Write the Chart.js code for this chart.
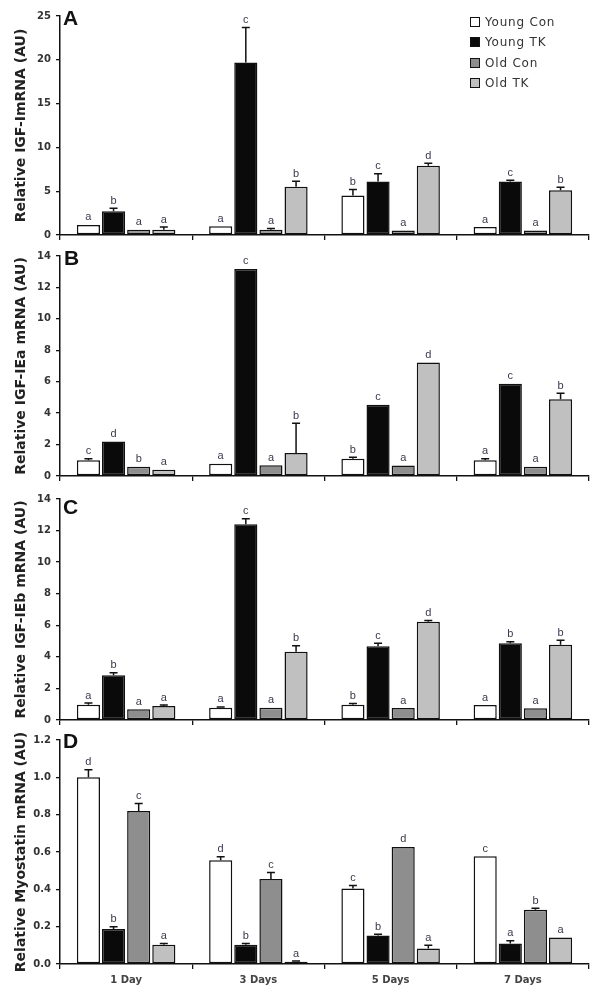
<!DOCTYPE html>
<html><head><meta charset="utf-8">
<script src="https://cdn.jsdelivr.net/npm/chart.js@4.4.1/dist/chart.umd.min.js"></script>
<style>
html,body{margin:0;padding:0;background:#fff;}
#wrap{position:relative;width:602px;height:992px;overflow:hidden;background:#fff;}
canvas{position:absolute;left:0;}
.plabel{position:absolute;font:bold 21px "Liberation Sans",Arial,sans-serif;color:#111;line-height:1;}
.legend{position:absolute;left:470px;top:12px;font:12px "DejaVu Sans",sans-serif;color:#333;letter-spacing:0.8px;}
.legend div{height:20.3px;display:flex;align-items:center;white-space:nowrap;}
.legend span.sw{display:inline-block;width:8px;height:8px;border:1px solid #111;margin-right:5px;flex:none;}
</style></head>
<body><div id="wrap">
<canvas id="cA" width="602" height="246" style="top:0px"></canvas>
<canvas id="cB" width="602" height="247" style="top:240px"></canvas>
<canvas id="cC" width="602" height="248" style="top:483px"></canvas>
<canvas id="cD" width="602" height="268" style="top:724px"></canvas>
<div class="plabel" style="left:63px;top:7px">A</div>
<div class="plabel" style="left:64px;top:247px">B</div>
<div class="plabel" style="left:63px;top:496px">C</div>
<div class="plabel" style="left:63px;top:730px">D</div>
<div class="legend" id="legend"></div>
</div>
<script>
// ---- categories and series ----
const categories = ['1 Day', '3 Days', '5 Days', '7 Days'];
const seriesNames = ['Young Con', 'Young TK', 'Old Con', 'Old TK'];
const seriesColors = ['#ffffff', '#0a0a0a', '#8e8e8e', '#c0c0c0'];

// ---- Panel A: IGF-I mRNA ----
const igf1YoungCon = [1.15, 1.0, 4.5, 0.9];
const igf1YoungTK  = [2.7, 19.7, 6.1, 6.1];
const igf1OldCon   = [0.6, 0.6, 0.5, 0.5];
const igf1OldTK    = [0.6, 5.5, 7.9, 5.1];
const igf1ErrYoungCon = [0, 0, 0.7, 0];
const igf1ErrYoungTK  = [0.35, 4.0, 0.9, 0.15];
const igf1ErrOldCon   = [0, 0.15, 0, 0];
const igf1ErrOldTK    = [0.3, 0.65, 0.3, 0.35];
const igf1Letters = [['a','a','b','a'], ['b','c','c','c'], ['a','a','a','a'], ['a','b','d','b']];
const igf1Ticks = [0, 5, 10, 15, 20, 25];

// ---- Panel B: IGF-IEa mRNA ----
const eaYoungCon = [1.0, 0.78, 1.09, 1.0];
const eaYoungTK  = [2.19, 13.18, 4.53, 5.87];
const eaOldCon   = [0.59, 0.69, 0.67, 0.59];
const eaOldTK    = [0.4, 1.47, 7.22, 4.89];
const eaErrYoungCon = [0.1, 0, 0.1, 0.1];
const eaErrYoungTK  = [0, 0, 0, 0];
const eaErrOldCon   = [0, 0, 0, 0];
const eaErrOldTK    = [0, 1.88, 0, 0.37];
const eaLetters = [['c','a','b','a'], ['d','c','c','c'], ['b','a','a','a'], ['a','b','d','b']];
const eaTicks = [0, 2, 4, 6, 8, 10, 12, 14];

// ---- Panel C: IGF-IEb mRNA ----
const ebYoungCon = [0.97, 0.78, 0.97, 0.95];
const ebYoungTK  = [2.84, 12.4, 4.67, 4.86];
const ebOldCon   = [0.68, 0.78, 0.76, 0.74];
const ebOldTK    = [0.88, 4.32, 6.23, 4.76];
const ebErrYoungCon = [0.1, 0.05, 0.08, 0];
const ebErrYoungTK  = [0.15, 0.35, 0.19, 0.09];
const ebErrOldCon   = [0, 0, 0, 0];
const ebErrOldTK    = [0.07, 0.38, 0.07, 0.29];
const ebLetters = [['a','a','b','a'], ['b','c','c','b'], ['a','a','a','a'], ['a','b','d','b']];
const ebTicks = [0, 2, 4, 6, 8, 10, 12, 14];

// ---- Panel D: Myostatin mRNA ----
const myoYoungCon = [1.0, 0.556, 0.405, 0.577];
const myoYoungTK  = [0.187, 0.103, 0.153, 0.11];
const myoOldCon   = [0.82, 0.456, 0.627, 0.29];
const myoOldTK    = [0.103, 0.012, 0.083, 0.142];
const myoErrYoungCon = [0.04, 0.018, 0.016, 0];
const myoErrYoungTK  = [0.013, 0.007, 0.007, 0.014];
const myoErrOldCon   = [0.04, 0.034, 0, 0.008];
const myoErrOldTK    = [0.007, 0.004, 0.017, 0];
const myoLetters = [['d','d','c','c'], ['b','b','b','a'], ['c','c','d','b'], ['a','a','a','a']];
const myoTicks = [0, 0.2, 0.4, 0.6, 0.8, 1.0, 1.2];

// ---- legend ----
const lg = document.getElementById('legend');
seriesNames.forEach((n, i) => {
  const d = document.createElement('div');
  const s = document.createElement('span'); s.className = 'sw'; s.style.background = seriesColors[i];
  d.appendChild(s); d.appendChild(document.createTextNode(n)); lg.appendChild(d);
});

// ---- error bars + letters plugin ----
const annot = {
  id: 'annot',
  afterDatasetsDraw(chart) {
    const ctx = chart.ctx, ys = chart.scales.y;
    ctx.save();
    chart.data.datasets.forEach((ds, i) => {
      const meta = chart.getDatasetMeta(i);
      meta.data.forEach((bar, j) => {
        const v = ds.data[j], e = ds.errs[j];
        const x = bar.x;
        let top = bar.y;
        if (e > 0) {
          const yt = ys.getPixelForValue(v + e);
          ctx.strokeStyle = '#111'; ctx.lineWidth = 1.5;
          ctx.beginPath();
          ctx.moveTo(x, bar.y); ctx.lineTo(x, yt);
          ctx.moveTo(x - 4, yt); ctx.lineTo(x + 4, yt);
          ctx.stroke();
          top = yt;
        }
        ctx.fillStyle = '#3a3a4c';
        ctx.font = '11px "Liberation Sans", Arial, sans-serif';
        ctx.textAlign = 'center'; ctx.textBaseline = 'bottom';
        ctx.fillText(ds.letters[j], x, top - 2);
      });
    });
    ctx.restore();
  }
};

function makePanel(id, vals, errs, letters, ticks, title, xHeight, showX, dec) {
  const datasets = vals.map((v, i) => ({
    label: seriesNames[i], data: v, errs: errs[i], letters: letters[i],
    backgroundColor: seriesColors[i], borderColor: '#111', borderWidth: 1.5, borderSkipped: false,
    categoryPercentage: 0.76, barPercentage: 0.92
  }));
  new Chart(document.getElementById(id), {
    type: 'bar',
    data: { labels: categories, datasets },
    plugins: [annot],
    options: {
      responsive: false, animation: false, devicePixelRatio: 1,
      layout: { padding: { top: 16, left: 0, right: 13, bottom: 0 } },
      plugins: { legend: { display: false }, tooltip: { enabled: false } },
      scales: {
        x: {
          grid: { offset: true, drawOnChartArea: false, drawTicks: true, tickLength: 5, color: '#111', lineWidth: 1.3 },
          border: { display: true, color: '#111', width: 1.5 },
          ticks: { display: showX, padding: 5, color: '#444', font: { family: 'DejaVu Sans', size: 10, weight: 'bold' } },
          afterFit: s => { s.height = xHeight; }
        },
        y: {
          min: ticks[0], max: ticks[ticks.length - 1],
          afterBuildTicks: s => { s.ticks = ticks.map(t => ({ value: t })); },
          grid: { drawOnChartArea: false, drawTicks: true, tickLength: 4, color: '#111', lineWidth: 1.3 },
          border: { display: true, color: '#111', width: 1.5 },
          ticks: { padding: 5, color: '#333', font: { family: 'DejaVu Sans', size: 10, weight: 'bold' },
                   callback: v => Number(v).toFixed(dec) },
          title: { display: true, text: title, color: '#222', padding: { top: 13, bottom: 0 },
                   font: { family: 'DejaVu Sans', size: 14, weight: 'bold' } },
          afterFit: s => { s.width = 60; }
        }
      }
    }
  });
}

makePanel('cA', [igf1YoungCon, igf1YoungTK, igf1OldCon, igf1OldTK],
  [igf1ErrYoungCon, igf1ErrYoungTK, igf1ErrOldCon, igf1ErrOldTK], igf1Letters, igf1Ticks,
  'Relative IGF-ImRNA (AU)', 10, false, 0);
makePanel('cB', [eaYoungCon, eaYoungTK, eaOldCon, eaOldTK],
  [eaErrYoungCon, eaErrYoungTK, eaErrOldCon, eaErrOldTK], eaLetters, eaTicks,
  'Relative IGF-IEa mRNA (AU)', 10, false, 0);
makePanel('cC', [ebYoungCon, ebYoungTK, ebOldCon, ebOldTK],
  [ebErrYoungCon, ebErrYoungTK, ebErrOldCon, ebErrOldTK], ebLetters, ebTicks,
  'Relative IGF-IEb mRNA (AU)', 10, false, 0);
makePanel('cD', [myoYoungCon, myoYoungTK, myoOldCon, myoOldTK],
  [myoErrYoungCon, myoErrYoungTK, myoErrOldCon, myoErrOldTK], myoLetters, myoTicks,
  'Relative Myostatin mRNA (AU)', 28, true, 1);
</script>
</body></html>
